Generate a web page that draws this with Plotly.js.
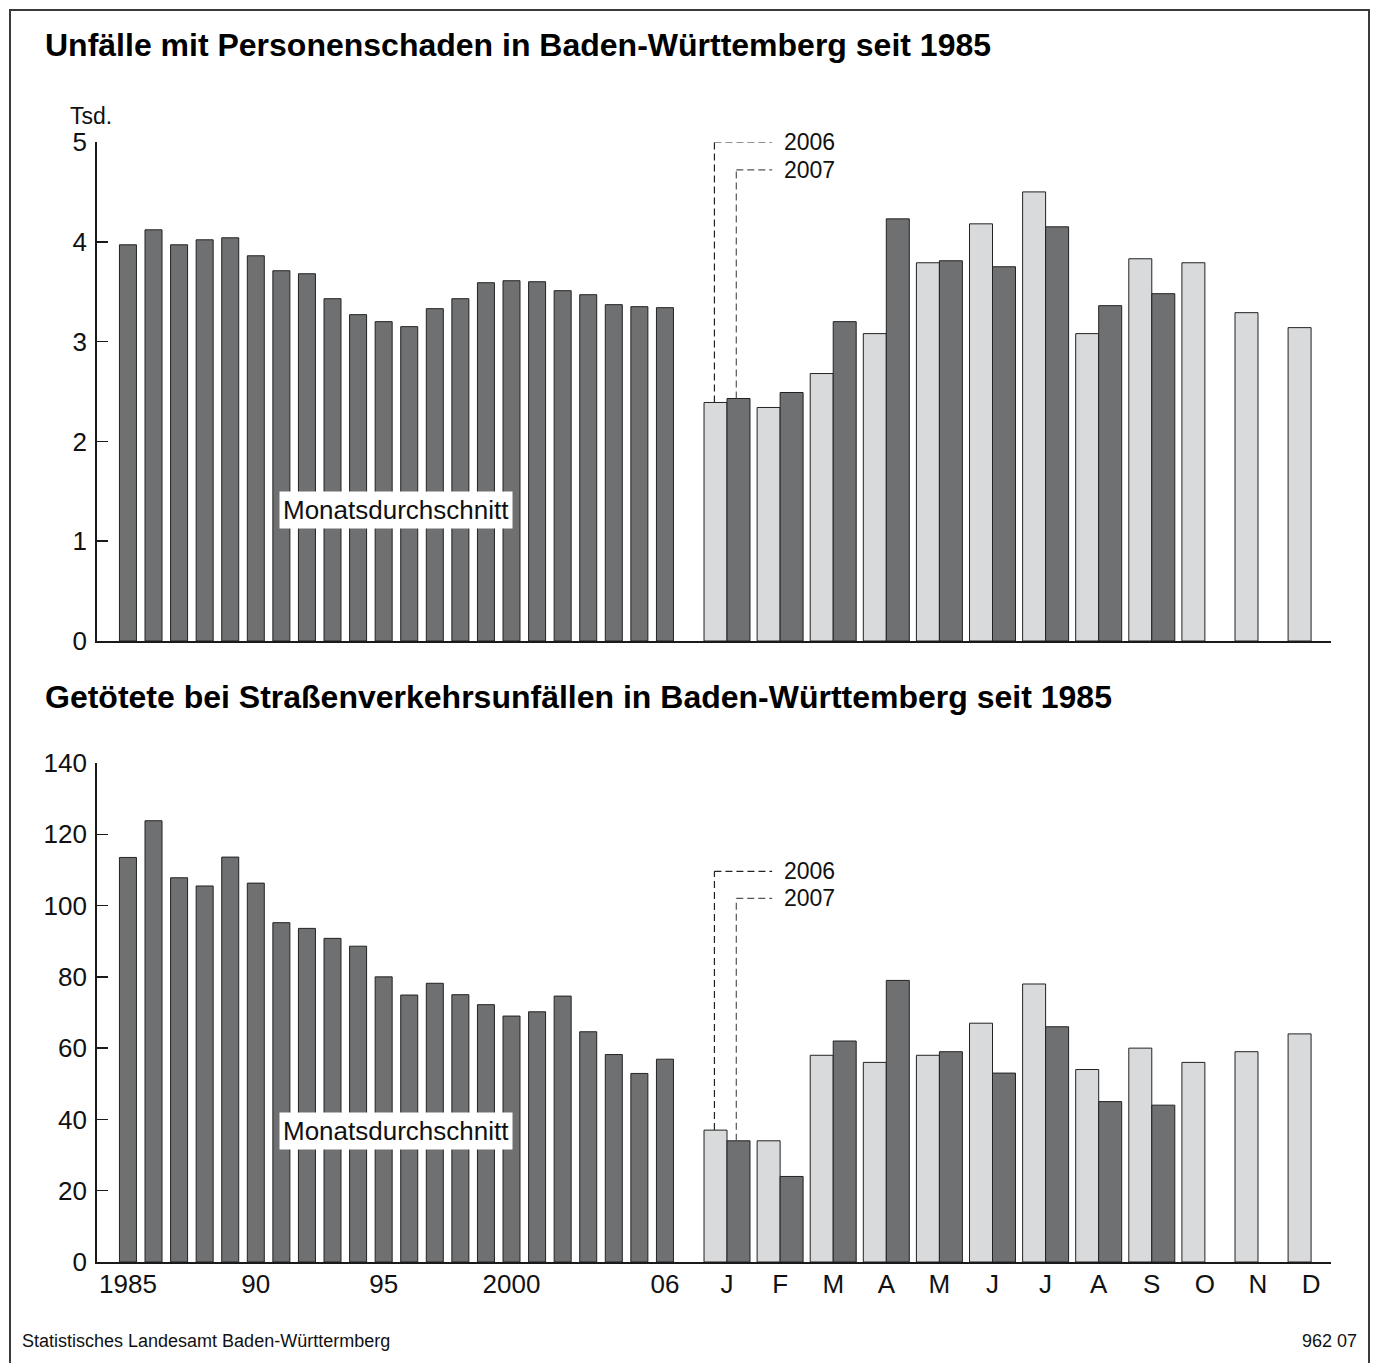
<!DOCTYPE html>
<html>
<head>
<meta charset="utf-8">
<script src="https://cdn.plot.ly/plotly-3.0.1.min.js"></script>
<style>html,body{margin:0;padding:0;background:#fff;}#chart{width:1376px;height:1363px;}</style>
</head>
<body>
<div id="chart"></div>
<script>
// ---- data ----
const years = [1985,1986,1987,1988,1989,1990,1991,1992,1993,1994,1995,1996,1997,1998,1999,2000,2001,2002,2003,2004,2005,2006];
const accidentsYearly = [3.97,4.12,3.97,4.02,4.04,3.86,3.71,3.68,3.43,3.27,3.20,3.15,3.33,3.43,3.59,3.61,3.60,3.51,3.47,3.37,3.35,3.34];
const deathsYearly = [113.5,123.8,107.8,105.5,113.6,106.3,95.2,93.6,90.8,88.6,80.0,74.9,78.2,75.0,72.2,69.0,70.2,74.6,64.6,58.2,52.9,56.9];
const monthLabels = ['J','F','M','A','M','J','J','A','S','O','N','D'];
const accidents2006 = [2.39,2.34,2.68,3.08,3.79,4.18,4.50,3.08,3.83,3.79,3.29,3.14];
const accidents2007 = [2.43,2.49,3.20,4.23,3.81,3.75,4.15,3.36,3.48];
const deaths2006 = [37,34,58,56,58,67,78,54,60,56,59,64];
const deaths2007 = [34,24,62,79,59,53,66,45,44];
const yearTickVals = [1985,1990,1995,2000,2006];
const yearTickText = ['1985','90','95','2000','06'];

// ---- style ----
const W = 1376, H = 1363;
const DARK = '#6f7072', LIGHT = '#d9dadc', OUT = '#222';
const FONT = 'Liberation Sans, Arial, sans-serif';
const monthIdx = monthLabels.map((_, i) => i);
const px = v => v / W, py = v => 1 - v / H;

const yearBar = (y, xa, ya) => ({type:'bar', x: years, y: y, xaxis: xa, yaxis: ya, width: 0.665,
  marker:{color: DARK, line:{color: OUT, width: 1}}, hoverinfo:'x+y'});
const monthBar = (y, xa, ya, color, offset) => ({type:'bar', x: monthIdx.slice(0, y.length), y: y, xaxis: xa, yaxis: ya,
  width: 0.433, offset: offset, marker:{color: color, line:{color: OUT, width: 1}}, hoverinfo:'y'});

const traces = [
  yearBar(accidentsYearly, 'x', 'y'),
  monthBar(accidents2006, 'x2', 'y', LIGHT, -0.433),
  monthBar(accidents2007, 'x2', 'y', DARK, 0),
  yearBar(deathsYearly, 'x3', 'y2'),
  monthBar(deaths2006, 'x4', 'y2', LIGHT, -0.433),
  monthBar(deaths2007, 'x4', 'y2', DARK, 0)
];

const xBase = {showline:true, linecolor:'#1a1a1a', linewidth:1.5, ticks:'', showgrid:false, zeroline:false,
  fixedrange:true, tickfont:{family:FONT, size:26, color:'#111'}};
const dYears = [px(97), px(690)], dMonths = [px(690), px(1331)];
const yrRange = [1983.79, 2006.98], moRange = [-0.697, 11.375];
const yBase = {showline:true, linecolor:'#1a1a1a', linewidth:1.8, ticks:'inside', ticklen:11, tickwidth:1.5,
  tickcolor:'#1a1a1a', showgrid:false, zeroline:false, fixedrange:true, ticklabelstandoff:3,
  tickfont:{family:FONT, size:26, color:'#111'}};

const DASH = '7px,4px';
const dashLines = (xv, yBar, yTop, xEnd, xref, yref, color) => [
  {type:'line', xref, yref, x0:xv, x1:xv, y0:yBar, y1:yTop, line:{color, width:1.2, dash:DASH}},
  {type:'line', xref, yref, x0:xv, x1:xEnd, y0:yTop, y1:yTop, line:{color, width:1.2, dash:DASH}}
];
const legendText = (text, xref, yref, y) => ({text, xref, yref, x:1.03, y, xanchor:'left', yanchor:'middle',
  showarrow:false, font:{family:FONT, size:23, color:'#111'}});

const layout = {
  width: W, height: H, margin:{l:0, r:0, t:0, b:0}, paper_bgcolor:'#fff', plot_bgcolor:'rgba(0,0,0,0)',
  showlegend:false, barmode:'overlay', font:{family:FONT, color:'#111'},
  xaxis: Object.assign({}, xBase, {domain:dYears, range:yrRange, anchor:'y', showticklabels:false}),
  xaxis2: Object.assign({}, xBase, {domain:dMonths, range:moRange, anchor:'y', showticklabels:false}),
  xaxis3: Object.assign({}, xBase, {domain:dYears, range:yrRange, anchor:'y2', tickmode:'array', tickvals:yearTickVals, ticktext:yearTickText, ticklabelstandoff:-2}),
  xaxis4: Object.assign({}, xBase, {domain:dMonths, range:moRange, anchor:'y2', tickmode:'array', tickvals:monthIdx, ticktext:monthLabels, ticklabelstandoff:-2}),
  yaxis: Object.assign({}, yBase, {domain:[py(641), py(142)], range:[0,5], dtick:1, anchor:'x'}),
  yaxis2: Object.assign({}, yBase, {domain:[py(1262), py(763)], range:[0,140], dtick:20, anchor:'x3'}),
  shapes: [
    {type:'rect', xref:'paper', yref:'paper', x0:px(10), x1:px(1369), y0:-0.02, y1:py(10), line:{color:'#3a3a3a', width:2}},
    ...dashLines(-0.237, accidents2006[0], 5.0, 0.85, 'x2', 'y', '#222'),
    ...dashLines(0.175, accidents2007[0], 4.72, 0.85, 'x2', 'y', '#555'),
    ...dashLines(-0.237, deaths2006[0], 109.6, 0.85, 'x4', 'y2', '#222'),
    ...dashLines(0.175, deaths2007[0], 102.0, 0.85, 'x4', 'y2', '#555')
  ],
  annotations: [
    {text:'<b>Unfälle mit Personenschaden in Baden-Württemberg seit 1985</b>', xref:'paper', yref:'paper', x:px(43), y:py(45),
      xanchor:'left', yanchor:'middle', showarrow:false, font:{family:FONT, size:32, color:'#000'}},
    {text:'<b>Getötete bei Straßenverkehrsunfällen in Baden-Württemberg seit 1985</b>', xref:'paper', yref:'paper', x:px(43), y:py(697),
      xanchor:'left', yanchor:'middle', showarrow:false, font:{family:FONT, size:32, color:'#000'}},
    {text:'Tsd.', xref:'paper', yref:'paper', x:px(68), y:py(116), xanchor:'left', yanchor:'middle', showarrow:false,
      font:{family:FONT, size:23, color:'#111'}},
    {text:'Monatsdurchschnitt', xref:'paper', yref:'paper', x:px(396), y:py(510), xanchor:'center', yanchor:'middle', showarrow:false,
      bgcolor:'#fff', borderpad:3, font:{family:FONT, size:26, color:'#111'}},
    {text:'Monatsdurchschnitt', xref:'paper', yref:'paper', x:px(396), y:py(1131), xanchor:'center', yanchor:'middle', showarrow:false,
      bgcolor:'#fff', borderpad:3, font:{family:FONT, size:26, color:'#111'}},
    legendText('2006', 'x2', 'y', 5.0),
    legendText('2007', 'x2', 'y', 4.72),
    legendText('2006', 'x4', 'y2', 109.6),
    legendText('2007', 'x4', 'y2', 102.0),
    {text:'Statistisches Landesamt Baden-Württermberg', xref:'paper', yref:'paper', x:px(20), y:py(1341), xanchor:'left', yanchor:'middle',
      showarrow:false, font:{family:FONT, size:18, color:'#111'}},
    {text:'962 07', xref:'paper', yref:'paper', x:px(1359), y:py(1341), xanchor:'right', yanchor:'middle',
      showarrow:false, font:{family:FONT, size:18, color:'#111'}}
  ]
};

Plotly.newPlot('chart', traces, layout, {displayModeBar:false, staticPlot:true});
</script>
</body>
</html>
